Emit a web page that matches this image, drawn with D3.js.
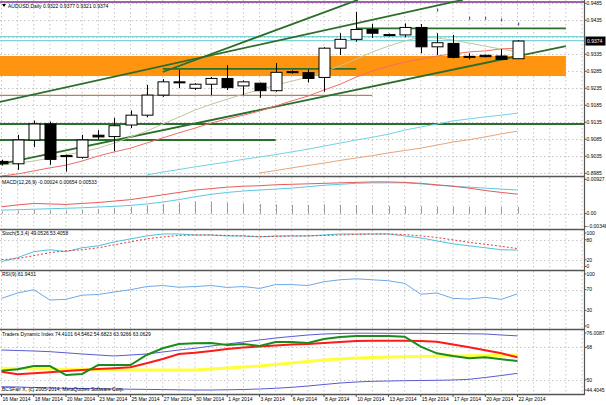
<!DOCTYPE html>
<html>
<head>
<meta charset="utf-8">
<script src="https://cdn.jsdelivr.net/npm/d3@7"></script>
<style>
  body { margin: 0; background: #fff; }
  svg { display: block; }
  text { font-family: "Liberation Sans", Arial, sans-serif; fill: #000; }
</style>
</head>
<body>
<svg id="chart" width="606" height="405"></svg>
<script>
// ---- data (AUDUSD daily, Sunday bars included) ----
const dates = ["16 Mar","17 Mar","18 Mar","19 Mar","20 Mar","21 Mar","23 Mar","24 Mar","25 Mar","26 Mar","27 Mar","28 Mar",
  "30 Mar","31 Mar","1 Apr","2 Apr","3 Apr","4 Apr","6 Apr","7 Apr","8 Apr","9 Apr","10 Apr","11 Apr",
  "13 Apr","14 Apr","15 Apr","16 Apr","17 Apr","18 Apr","20 Apr","21 Apr","22 Apr"];
const opens  = [0.9020,0.9013,0.9083,0.9130,0.9037,0.9032,0.9097,0.9093,0.9127,0.9156,0.9215,0.9254,0.9235,0.9247,0.9264,0.9242,0.9250,0.9228,0.9284,0.9281,0.9267,0.9353,0.9379,0.9408,0.9393,0.9392,0.9414,0.9357,0.9367,0.9329,0.9332,0.9330,0.9322];
const highs  = [0.9025,0.9098,0.9140,0.9137,0.9040,0.9098,0.9112,0.9148,0.9170,0.9245,0.9262,0.9289,0.9250,0.9268,0.9303,0.9258,0.9252,0.9309,0.9288,0.9290,0.9356,0.9397,0.9460,0.9425,0.9396,0.9426,0.9424,0.9397,0.9392,0.9338,0.9334,0.9350,0.9377];
const lows   = [0.9008,0.8995,0.9062,0.9010,0.8990,0.9028,0.9085,0.9050,0.9118,0.9150,0.9210,0.9236,0.9230,0.9215,0.9230,0.9215,0.9207,0.9225,0.9278,0.9252,0.9225,0.9333,0.9372,0.9383,0.9388,0.9385,0.9338,0.9333,0.9323,0.9320,0.9326,0.9318,0.9321];
const closes = [0.9013,0.9083,0.9130,0.9026,0.9035,0.9083,0.9092,0.9125,0.9156,0.9215,0.9254,0.9253,0.9247,0.9264,0.9237,0.9254,0.9228,0.9282,0.9282,0.9264,0.9353,0.9379,0.9408,0.9397,0.9392,0.9414,0.9357,0.9369,0.9326,0.9328,0.9328,0.9320,0.9374];

// moving averages on the price chart
const maKhaki = [0.9009,0.9015,0.9021,0.9030,0.9039,0.9048,0.9059,0.9074,0.9092,0.9109,0.9130,0.9150,0.9171,0.9188,0.9203,0.9218,0.9230,0.9245,0.9256,0.9268,0.9283,0.9301,0.9321,0.9342,0.9359,0.9374,0.9386,0.9383,0.9377,0.9368,0.9359,0.9350,0.9342];
const maRed   = [0.8977,0.8983,0.8992,0.9001,0.9009,0.9021,0.9036,0.9048,0.9059,0.9074,0.9089,0.9104,0.9118,0.9133,0.9145,0.9156,0.9168,0.9183,0.9198,0.9212,0.9230,0.9247,0.9268,0.9286,0.9300,0.9312,0.9321,0.9330,0.9336,0.9342,0.9345,0.9351,0.9353];
const maCyan  = [null,null,null,null,null,null,null,null,null,0.8980,0.8989,0.8996,0.9004,0.9011,0.9018,0.9026,0.9033,0.9040,0.9048,0.9056,0.9065,0.9074,0.9083,0.9091,0.9100,0.9112,0.9121,0.9130,0.9139,0.9145,0.9151,0.9156,0.9162];
const maBrown = [null,null,null,null,null,null,null,null,null,null,null,null,null,null,null,null,0.8986,0.8993,0.9001,0.9008,0.9015,0.9023,0.9030,0.9037,0.9045,0.9052,0.9059,0.9068,0.9077,0.9084,0.9092,0.9101,0.9109];

// small markers above the last candles
const markBars   = [27, 29, 30, 31, 32];
const markPrices = [0.9465, 0.9441, 0.9441, 0.9436, 0.9424];

const priceTicks = [0.9485,0.9435,0.9385,0.9335,0.9285,0.9235,0.9185,0.9135,0.9085,0.9035,0.8985];
const lastPrice = 0.9374;

// drawn objects: horizontal levels [price, fromBar, toBar], trend lines [bar, price, bar, price]
const levelPurple = [0.9489, -1, 37];
const levelCyan   = [[0.9387, -1, 37], [0.9375, -1, 37]];
const levelGreen  = [[0.9411, 22, 35], [0.9292, 10, 22], [0.9130, -1, 37], [0.9083, -1, 17]];
const levelBrown  = [0.9214, -1, 23];
const zoneOrange  = [0.9330, 0.9271, -1, 35];
const trendLines  = [[-0.1, 0.9195, 28.6, 0.9495], [10, 0.9283, 22.1, 0.9495], [-0.1, 0.9012, 35, 0.9359]];

// MACD(12,26,9)
const macdRed  = [0.00186,0.00238,0.00277,0.00264,0.00251,0.00277,0.00303,0.00342,0.00381,0.00446,0.00511,0.00576,0.00641,0.00680,0.00719,0.00745,0.00758,0.00784,0.00797,0.00810,0.00823,0.00836,0.00849,0.00862,0.00862,0.00849,0.00823,0.00784,0.00745,0.00693,0.00628,0.00576,0.00529];
const macdCyan = [0.00095,0.00108,0.00121,0.00134,0.00147,0.00160,0.00181,0.00199,0.00225,0.00264,0.00316,0.00381,0.00459,0.00524,0.00576,0.00615,0.00641,0.00667,0.00693,0.00732,0.00771,0.00797,0.00823,0.00836,0.00836,0.00836,0.00810,0.00771,0.00745,0.00719,0.00693,0.00667,0.00641];
const macdHist = [0.0006,0.0008,0.0010,0.0009,0.0008,0.0010,0.0012,0.0015,0.0018,0.0022,0.0026,0.0030,0.0033,0.0032,0.0030,0.0028,0.0026,0.0025,0.0024,0.0024,0.0025,0.0024,0.0023,0.0022,0.0021,0.0020,0.0020,0.0019,0.0019,0.0018,0.0018,0.0018,0.0018];
const macdTicks = [0.00927, 0, -0.00348];

// Stochastic(5,3,4)
const stochMain   = [14.7,26.5,44.1,50.0,44.1,55.9,61.8,73.5,82.4,91.2,97.1,97.1,94.1,94.1,91.2,91.2,88.2,91.2,91.2,91.2,94.1,97.1,97.1,97.1,97.1,91.2,85.3,76.5,67.6,61.8,55.9,50.0,49.1];
const stochSignal = [20.6,23.5,32.4,41.2,47.1,50.0,55.9,64.7,73.5,82.4,88.2,92.6,94.1,94.1,92.6,91.2,89.7,89.7,91.2,91.2,92.6,94.1,95.6,97.1,97.1,95.6,91.2,86.8,79.4,72.1,66.2,60.3,53.4];
const stochLevels = [100, 80, 20, 0];

// RSI(9)
const rsi = [53.1,63.5,69.8,50.0,51.3,59.3,60.6,65.4,69.8,75.9,77.8,74.6,75.9,77.8,74.1,75.9,72.2,79.6,79.6,77.8,85.2,88.9,90.7,88.9,87.0,82.0,61.1,63.5,53.1,51.9,55.0,51.3,61.9];
const rsiLevels = [100, 70, 30, 0];

// Traders Dynamic Index
const tdiUpper  = [66.58,66.31,66.03,65.64,65.03,64.37,63.81,63.26,63.81,64.37,65.47,66.58,67.52,68.80,69.91,71.02,72.13,73.24,74.07,74.90,75.46,75.73,75.90,75.90,75.84,75.84,75.84,75.73,75.73,75.57,75.46,74.90,74.41];
const tdiLower  = [46.23,46.07,45.79,45.51,45.35,45.24,45.07,44.96,44.85,44.74,44.63,44.52,44.40,44.40,44.52,44.68,44.96,45.35,45.90,46.62,47.45,48.28,48.84,49.23,49.39,49.56,49.67,49.78,49.95,50.34,51.33,52.44,53.66];
const tdiGreen  = [55.11,55.88,57.71,57.71,52.72,53.28,58.27,58.27,58.27,63.81,67.53,69.91,70.30,70.47,69.36,69.91,68.80,71.02,71.02,70.47,72.68,73.79,74.35,74.35,74.35,73.96,68.41,64.75,63.26,61.98,62.54,61.43,60.48];
const tdiRed    = [54.55,53.11,53.66,54.22,54.94,55.49,56.05,56.44,56.99,59.21,61.59,64.37,65.09,66.03,67.14,67.97,68.52,69.08,69.63,69.91,70.47,71.02,71.57,71.74,71.74,71.68,71.57,71.19,69.63,68.08,66.42,64.75,62.54];
const tdiYellow = [56.44,56.32,56.21,56.05,55.88,55.77,55.66,55.49,55.49,55.49,55.49,55.49,55.49,56.05,56.60,57.16,57.71,58.54,59.37,60.21,61.04,61.59,62.15,62.42,62.70,62.87,62.98,63.09,63.26,63.37,63.53,63.70,63.81];
const tdiTicks = [76.0087, 68, 50, 44.4045];

// ---- layout ----
const plotRight = 584.5;
const panes = {
  main:  {top: 0,   bottom: 176},
  macd:  {top: 177, bottom: 229},
  stoch: {top: 230, bottom: 270},
  rsi:   {top: 271, bottom: 329},
  tdi:   {top: 330, bottom: 394}
};

const svg = d3.select('#chart');
const idx = d3.range(dates.length);

const x = d3.scaleLinear().domain([0, 32]).range([1.5, 517.5]);
const yPrice = d3.scaleLinear().domain([0.8985, 0.9485]).range([173.3, 3.3]);
const yMacd  = d3.scaleLinear().domain([-0.00348, 0.00927]).range([226.5, 179.5]);
const yStoch = d3.scaleLinear().domain([0, 100]).range([266.5, 233]);
const yRsi   = d3.scaleLinear().domain([0, 100]).range([326, 274]);
const yTdi   = d3.scaleLinear().domain([44.4045, 76.0087]).range([390, 333]);

// clip each pane
const defs = svg.append('defs');
Object.entries(panes).forEach(([k, p]) => {
  defs.append('clipPath').attr('id', 'clip-' + k)
    .append('rect').attr('x', 0).attr('y', p.top).attr('width', plotRight).attr('height', p.bottom - p.top);
});
const layer = k => svg.append('g').attr('clip-path', 'url(#clip-' + k + ')');

// vertical dotted grid, one per bar, continuing into the empty space on the right
const gridX = d3.range(0, 37);
Object.entries(panes).forEach(([k, p]) => {
  const g = layer(k);
  g.selectAll('line.vg').data(gridX).join('line')
    .attr('x1', d => x(d)).attr('x2', d => x(d))
    .attr('y1', p.top).attr('y2', p.bottom)
    .attr('stroke', '#b8b8b8').attr('stroke-dasharray', '1.5,2.5').attr('stroke-width', 0.8);
});

function hGrid(g, vals, scale) {
  g.selectAll('line.hg').data(vals).join('line')
    .attr('x1', 0).attr('x2', plotRight)
    .attr('y1', d => Math.round(scale(d)) + 0.5).attr('y2', d => Math.round(scale(d)) + 0.5)
    .attr('stroke', '#b8b8b8').attr('stroke-dasharray', '1.5,2.5').attr('stroke-width', 0.8);
}

const lineGen = (scale) => d3.line().defined(d => d[1] != null).x(d => x(d[0])).y(d => scale(d[1]));
const pts = arr => idx.map(i => [i, arr[i]]);

// ---------------- main pane ----------------
const gMain = layer('main');
hGrid(gMain, priceTicks, yPrice);

// orange zone
gMain.append('rect')
  .attr('x', x(zoneOrange[2])).attr('width', x(zoneOrange[3]) - x(zoneOrange[2]))
  .attr('y', yPrice(zoneOrange[0])).attr('height', yPrice(zoneOrange[1]) - yPrice(zoneOrange[0]))
  .attr('fill', '#ff9410');

function hLevel(g, lv, color, w) {
  g.append('line')
    .attr('x1', x(lv[1])).attr('x2', x(lv[2]))
    .attr('y1', yPrice(lv[0])).attr('y2', yPrice(lv[0]))
    .attr('stroke', color).attr('stroke-width', w);
}
hLevel(gMain, levelPurple, '#7b2f8f', 1.5);
levelCyan.forEach(lv => hLevel(gMain, lv, '#7fd3d6', 1.2));
hLevel(gMain, levelBrown, '#b5835a', 1.2);
levelGreen.forEach(lv => hLevel(gMain, lv, '#2b6e2b', 1.8));

gMain.selectAll('line.trend').data(trendLines).join('line')
  .attr('x1', d => x(d[0])).attr('y1', d => yPrice(d[1]))
  .attr('x2', d => x(d[2])).attr('y2', d => yPrice(d[3]))
  .attr('stroke', '#2b6e2b').attr('stroke-width', 1.8);

// moving averages
[[maBrown, '#e6a57a'], [maCyan, '#6fd4e4'], [maRed, '#f26b6b'], [maKhaki, '#bfc79a']].forEach(([arr, c]) => {
  gMain.append('path').datum(pts(arr)).attr('d', lineGen(yPrice))
    .attr('fill', 'none').attr('stroke', c).attr('stroke-width', 1);
});

// candles
const bw = 11;
const candles = gMain.selectAll('g.c').data(idx).join('g');
candles.append('line')
  .attr('x1', i => Math.round(x(i)) + 0.5).attr('x2', i => Math.round(x(i)) + 0.5)
  .attr('y1', i => yPrice(highs[i])).attr('y2', i => yPrice(lows[i]))
  .attr('stroke', '#000').attr('stroke-width', 1);
candles.append('rect')
  .attr('x', i => Math.round(x(i)) - bw / 2 + 0.5)
  .attr('width', bw)
  .attr('y', i => yPrice(Math.max(opens[i], closes[i])))
  .attr('height', i => Math.max(1, Math.abs(yPrice(opens[i]) - yPrice(closes[i]))))
  .attr('fill', i => closes[i] >= opens[i] ? '#fff' : '#000')
  .attr('stroke', '#000').attr('stroke-width', 1);

gMain.selectAll('rect.mk').data(markBars).join('rect')
  .attr('x', (b) => Math.round(x(b))).attr('width', 1.2)
  .attr('y', (b, k) => yPrice(markPrices[k]) - 1.5).attr('height', 3)
  .attr('fill', '#6a4aa8');

// ---------------- MACD ----------------
const gMacd = layer('macd');
hGrid(gMacd, [0], yMacd);
gMacd.selectAll('line.h').data(idx).join('line')
  .attr('x1', i => Math.round(x(i)) + 0.5).attr('x2', i => Math.round(x(i)) + 0.5)
  .attr('y1', yMacd(0)).attr('y2', i => yMacd(macdHist[i]))
  .attr('stroke', '#9a9a9a').attr('stroke-width', 1);
gMacd.append('path').datum(pts(macdCyan)).attr('d', lineGen(yMacd))
  .attr('fill', 'none').attr('stroke', '#5cc8e0').attr('stroke-width', 1);
gMacd.append('path').datum(pts(macdRed)).attr('d', lineGen(yMacd))
  .attr('fill', 'none').attr('stroke', '#e85a5a').attr('stroke-width', 1);

// ---------------- Stochastic ----------------
const gSto = layer('stoch');
hGrid(gSto, [80, 20], yStoch);
gSto.append('path').datum(pts(stochMain)).attr('d', lineGen(yStoch))
  .attr('fill', 'none').attr('stroke', '#4cc3dc').attr('stroke-width', 1);
gSto.append('path').datum(pts(stochSignal)).attr('d', lineGen(yStoch))
  .attr('fill', 'none').attr('stroke', '#e03b3b').attr('stroke-width', 1).attr('stroke-dasharray', '2,2');

// ---------------- RSI ----------------
const gRsi = layer('rsi');
hGrid(gRsi, [70, 30], yRsi);
gRsi.append('path').datum(pts(rsi)).attr('d', lineGen(yRsi))
  .attr('fill', 'none').attr('stroke', '#6fa8e6').attr('stroke-width', 1);

// ---------------- TDI ----------------
const gTdi = layer('tdi');
hGrid(gTdi, [68, 50], yTdi);
[[tdiUpper, '#5a5ad2', 1], [tdiLower, '#5a5ad2', 1], [tdiYellow, '#ffff3c', 3], [tdiRed, '#ff1a1a', 2], [tdiGreen, '#1d8a1d', 2]]
  .forEach(([arr, c, w]) => {
    gTdi.append('path').datum(pts(arr)).attr('d', lineGen(yTdi))
      .attr('fill', 'none').attr('stroke', c).attr('stroke-width', w);
  });

// ---------------- frames ----------------
Object.values(panes).forEach(p => {
  svg.append('line').attr('x1', 0).attr('x2', plotRight).attr('y1', p.bottom + 0.5).attr('y2', p.bottom + 0.5)
    .attr('stroke', '#555').attr('stroke-width', 1.5);
});
svg.append('line').attr('x1', plotRight).attr('x2', plotRight).attr('y1', 0).attr('y2', panes.tdi.bottom + 1)
  .attr('stroke', '#555').attr('stroke-width', 1.2);

// ---------------- right axis labels ----------------
const fs = 5;
function axisLabels(vals, scale, fmt) {
  vals.forEach(v => {
    const yy = scale(v);
    svg.append('line').attr('x1', plotRight).attr('x2', plotRight + 2).attr('y1', yy).attr('y2', yy).attr('stroke', '#555');
    svg.append('text').attr('x', 586.5).attr('y', yy + 1.8).attr('font-size', fs).text(fmt(v));
  });
}
// the 0.9385 label sits under the current-price box, so it is not written
axisLabels(priceTicks.filter(v => Math.abs(v - lastPrice) > 0.002), yPrice, d3.format('.4f'));
axisLabels(macdTicks, yMacd, v => v === 0 ? '0.00' : d3.format('.5f')(v));
axisLabels(stochLevels, yStoch, String);
axisLabels(rsiLevels, yRsi, String);
axisLabels(tdiTicks, yTdi, String);

// current price box
svg.append('rect').attr('x', plotRight + 1).attr('y', yPrice(lastPrice) - 4.5).attr('width', 20).attr('height', 9).attr('fill', '#000');
svg.append('text').attr('x', 587).attr('y', yPrice(lastPrice) + 1.8).attr('font-size', fs).style('fill', '#fff')
  .text(d3.format('.4f')(lastPrice));

// ---------------- date axis ----------------
const dateIdx = idx.filter(i => i % 2 === 0);
svg.selectAll('line.dt').data(dateIdx).join('line')
  .attr('x1', i => x(i)).attr('x2', i => x(i)).attr('y1', panes.tdi.bottom).attr('y2', panes.tdi.bottom + 3)
  .attr('stroke', '#555');
svg.selectAll('text.dt').data(dateIdx).join('text')
  .attr('x', i => x(i) + 1).attr('y', 400.5).attr('font-size', fs)
  .text(i => dates[i] + ' 2014');

// ---------------- pane titles ----------------
const title = (t, yy) => svg.append('text').attr('x', 2).attr('y', yy).attr('font-size', fs).text(t);
svg.append('path').attr('d', 'M2,4 L6,4 L4,7 Z').attr('fill', '#000');
title('AUDUSD,Daily  0.9322 0.9377 0.9321 0.9374', 7.5).attr('x', 8);
title('MACD(12,26,9) -0.00024 0.00654 0.00533', 183.5);
title('Stoch(5,3,4) 49.0526 53.4058', 234.5);
title('RSI(9) 61.9431', 275.5);
title('Traders Dynamic Index 74.4101 64.5462 54.6823 63.9266 63.0629', 336);
title('BCSFair X, (c) 2005-2014, MetaQuotes Software Corp.', 390.5);
</script>
</body>
</html>
